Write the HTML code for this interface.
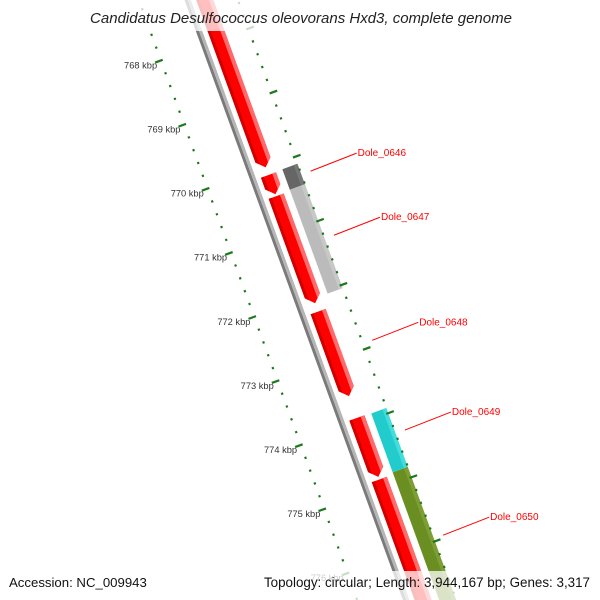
<!DOCTYPE html>
<html><head><meta charset="utf-8"><style>
html,body{margin:0;padding:0;background:#fff;width:600px;height:600px;overflow:hidden;}
svg{display:block;font-family:"Liberation Sans",sans-serif;overflow:hidden;}
</style></head><body>
<svg id="map" width="600" height="600" viewBox="0 0 600 600" xmlns="http://www.w3.org/2000/svg">
<rect width="600" height="600" fill="#fff"/>
<g id="rot" transform="translate(297.3,301) rotate(-20)"></g>
<g id="labels"></g>
<rect x="0" y="0" width="600" height="31" fill="#fff" opacity="0.75"/>
<text x="301" y="23" text-anchor="middle" font-size="15" font-style="italic" fill="#222">Candidatus Desulfococcus oleovorans Hxd3, complete genome</text>
<rect x="0" y="571" width="600" height="29" fill="#fff" opacity="0.75"/>
<text x="9" y="587" font-size="13.2" fill="#111">Accession: NC_009943</text>
<text x="590" y="587" text-anchor="end" font-size="13.4" fill="#111">Topology: circular; Length: 3,944,167 bp; Genes: 3,317</text>
</svg>
<script>
const tickKbp = [];
for (let k = 7670; k <= 7770; k += 2) tickKbp.push(k / 10);
const majorKbp = [768, 769, 770, 771, 772, 773, 774, 775, 776];
const tickLabels = ["768 kbp","769 kbp","770 kbp","771 kbp","772 kbp","773 kbp","774 kbp","775 kbp","776 kbp"];
const featNames = ["red-1","red-2","red-3","red-4","red-5","red-6"];
const featStart = [766.0, 770.12, 770.45, 772.25, 773.91, 774.87];
const featEnd   = [770.0, 770.42, 772.12, 773.57, 774.83, 778.0];
const track2Names = ["dole-0646","dole-0647","dole-0649","dole-0650"];
const track2Start = [770.11, 770.43, 773.92, 774.84];
const track2End   = [770.43, 772.05, 774.84, 778.0];
const track2Colors = ["#666666","#bbbbbb","#22cccc","#6b8e23"];
const track2Light = ["#777777","#c8c8c8","#44dddd","#7d9e35"];
const geneLabels = ["Dole_0646","Dole_0647","Dole_0648","Dole_0649","Dole_0650"];
const geneLabelKbp = [770.22, 771.22, 772.86, 774.26, 775.9];

const NS = "http://www.w3.org/2000/svg";
const ORIGIN = [297.3, 301], ANG = -20 * Math.PI / 180, PXK = 68.2, REFK = 772;
const along = k => (k - REFK) * PXK;
function toScreen(perp, a) {
  return [ORIGIN[0] + perp * Math.cos(ANG) - a * Math.sin(ANG),
          ORIGIN[1] + perp * Math.sin(ANG) + a * Math.cos(ANG)];
}
const rot = document.getElementById('rot');
const lab = document.getElementById('labels');
function mk(parent, tag, attrs) {
  const e = document.createElementNS(NS, tag);
  for (const k in attrs) e.setAttribute(k, attrs[k]);
  parent.appendChild(e);
  return e;
}
let bb = mk(rot, 'rect', {x: -3, y: -400, width: 3, height: 800, fill: '#7a7a7a'});


let bb2 = mk(rot, 'rect', {x: 0, y: -400, width: 3, height: 800, fill: '#b5b5b5'});



const X0 = 8, X1 = 24, XC = 16, AH = 8;
featStart.forEach((s, i) => {
  const a0 = along(s), a1 = along(featEnd[i]);
  const p = mk(rot, 'polygon', {points: `${X0},${a0} ${X1},${a0} ${X1},${a1 - AH} ${XC},${a1} ${X0},${a1 - AH}`, fill: '#ff0000'});
  
  
  const h = mk(rot, 'polygon', {points: `${X1 - 4},${a0} ${X1},${a0} ${X1},${a1 - AH} ${X1 - 4},${a1 - AH + 4}`, fill: '#ff6a6a'});
  
  
  const d = mk(rot, 'polygon', {points: `${X0},${a0} ${X0 + 3},${a0} ${X0 + 3},${a1 - AH + 3} ${X0},${a1 - AH}`, fill: '#d00000'});
  
  
});
track2Start.forEach((s, i) => {
  const a0 = along(s), a1 = along(track2End[i]);
  const r = mk(rot, 'rect', {x: 31, y: a0, width: 16, height: a1 - a0, fill: track2Colors[i]});
  
  
  const h = mk(rot, 'rect', {x: 43, y: a0, width: 4, height: a1 - a0, fill: track2Light[i]});
  
  
});
tickKbp.forEach(k => {
  const a = along(k);
  const major = majorKbp.some(m => Math.abs(m - k) < 1e-6);
  [-1, 1].forEach(side => {
    let t;
    if (major) {
      t = mk(rot, 'rect', {x: side < 0 ? -52 : 45, y: a - 1, width: 8, height: 2.2, fill: '#1a7a1a'});
    } else {
      t = mk(rot, 'rect', {x: side < 0 ? -47 : 46, y: a - 1, width: 2.2, height: 2.2, fill: '#1a7a1a'});
    }
    
    
  });
});
majorKbp.forEach((k, i) => {
  const [x, y] = toScreen(-52, along(k));
  const t = mk(lab, 'text', {x: x + 2, y: y + 6, 'text-anchor': 'end', 'font-size': '9.3', fill: '#333'});
  t.textContent = tickLabels[i];
  
  
});
geneLabelKbp.forEach((k, i) => {
  const [x, y] = toScreen(52, along(k));
  const l = mk(lab, 'line', {x1: x + 6, y1: y + 2, x2: x + 52, y2: y - 16, stroke: '#ff0000', 'stroke-width': 1});
  
  
  const t = mk(lab, 'text', {x: x + 53, y: y - 13, 'font-size': '10', fill: '#ff0000'});
  t.textContent = geneLabels[i];
  
  
});
</script>
</body></html>
